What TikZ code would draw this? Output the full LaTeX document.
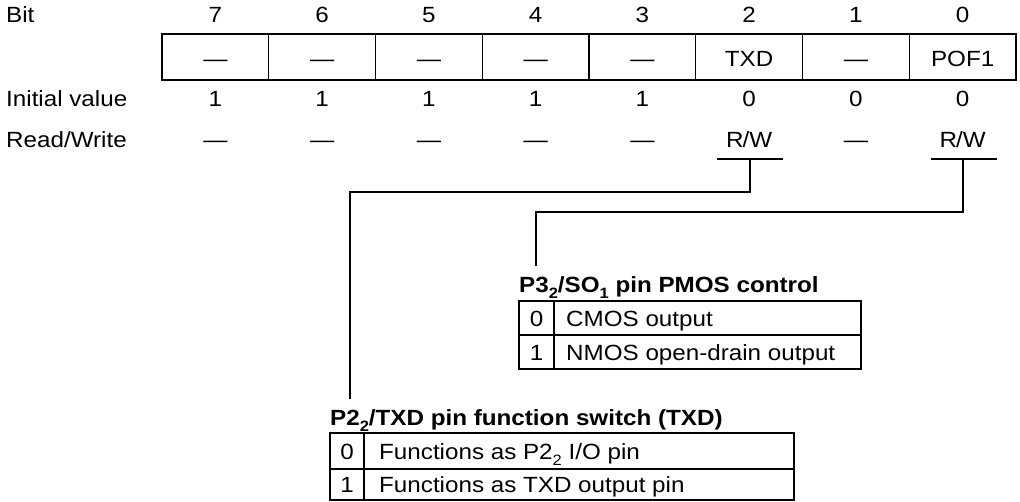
\documentclass[tikz,border=0pt]{standalone}
\usepackage{fontspec}
\setmainfont{Liberation Sans}[FakeStretch=1.1]
\newcommand{\lsub}[1]{\raisebox{-0.3em}{\fontsize{15}{15}\selectfont #1}}
\begin{document}
\begin{tikzpicture}[x=1pt,y=-1pt,
  font=\fontsize{22}{26}\selectfont,
  txt/.style={anchor=base,inner sep=0pt},
  lbl/.style={anchor=base west,inner sep=0pt},
  ttl/.style={anchor=base west,inner sep=0pt,font=\fontsize{22}{26}\selectfont\bfseries},
  ln/.style={line width=1.1pt,line cap=rect}]
\useasboundingbox (0,0) rectangle (1020,501);
% row labels
\node[lbl] (lbit) at (6,22) {Bit};
\node[lbl] (linit) at (6,106) {Initial value};
\node[lbl] (lrw) at (6,147) {Read/Write};
% register
\draw[ln] (162,34) rectangle (1016,80);
\foreach \k in {1,...,7}{\draw[ln] ({162+106.75*\k},34) -- ({162+106.75*\k},80);}
\foreach \i/\b/\n/\v/\r in {0/7/—/1/—,1/6/—/1/—,2/5/—/1/—,3/4/—/1/—,4/3/—/1/—,5/2/TXD/0/{R\kern-0.04em/W},6/1/—/0/—,7/0/POF1/0/{R\kern-0.04em/W}}{
  \node[txt] (bit\b) at ({162+106.75*(\i+0.5)},22) {\b};
  \node[txt] (name\b) at ({162+106.75*(\i+0.5)},66) {\n};
  \node[txt] (init\b) at ({162+106.75*(\i+0.5)},106) {\v};
  \node[txt] (rw\b) at ({162+106.75*(\i+0.5)},147) {\r};
}
% R/W underlines
\draw[ln] (718,159) -- (782,159);
\draw[ln] (932,159) -- (996,159);
\coordinate (u2) at (750,159);
\coordinate (u0) at (963,159);
% titles
\node[ttl] (title1) at (519,292) {P3\lsub{2}/SO\lsub{1} pin PMOS control};
\node[ttl] (title2) at (330,425) {P2\lsub{2}/TXD pin function switch (TXD)};
\coordinate (e1) at (536,265);
\coordinate (e2) at (350,398);
% connectors
\draw[ln] (u2) -- (750,192) -| (e2);
\draw[ln] (u0) -- (963,212) -| (e1);
% table 1
\draw[ln] (519,301) rectangle (861,369);
\draw[ln] (519,335) -- (861,335);
\draw[ln] (554,301) -- (554,369);
\node[txt] (t1n0) at (536.5,326) {0};
\node[lbl] (t1r0) at (566,326) {CMOS output};
\node[txt] (t1n1) at (536.5,360) {1};
\node[lbl] (t1r1) at (566,360) {NMOS open-drain output};
% table 2
\draw[ln] (330,433) rectangle (794,500);
\draw[ln] (330,469) -- (794,469);
\draw[ln] (364,433) -- (364,500);
\node[txt] (t2n0) at (347,459) {0};
\node[lbl] (t2r0) at (379,459) {Functions as P2\lsub{2} I/O pin};
\node[txt] (t2n1) at (347,492) {1};
\node[lbl] (t2r1) at (379,492) {Functions as TXD output pin};
\end{tikzpicture}
\end{document}
